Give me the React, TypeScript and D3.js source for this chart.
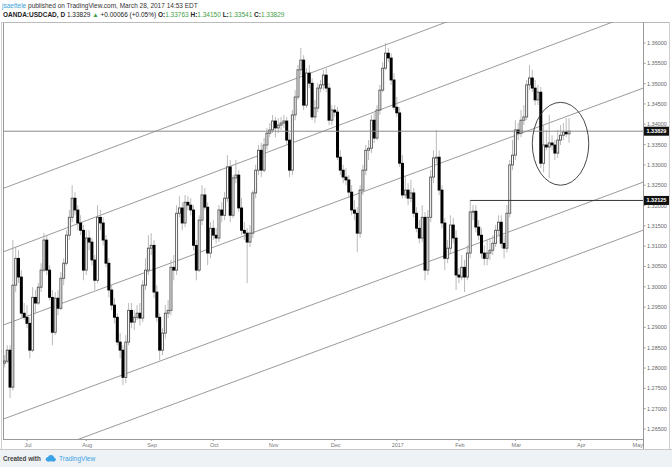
import React from 'react';
import * as d3 from 'd3';

const W = 672;
const H = 467;

// first trading day shown
const startDate = '2016-06-21';

const opens = [
  1.2812, 1.2817, 1.2844, 1.2753, 1.3004, 1.3070, 1.3024, 1.2935, 1.2925, 1.2910,
  1.2844, 1.2974, 1.2960, 1.2999, 1.3041, 1.3115, 1.3041, 1.2974, 1.2888, 1.2972,
  1.2947, 1.3021, 1.3058, 1.3127, 1.3171, 1.3218, 1.3189, 1.3157, 1.3139, 1.3041,
  1.3120, 1.3110, 1.3066, 1.3016, 1.3171, 1.3157, 1.3115, 1.3058, 1.2992, 1.2955,
  1.2925, 1.2864, 1.2844, 1.2777, 1.2864, 1.2942, 1.2913, 1.2925, 1.2935, 1.2923,
  1.3004, 1.3041, 1.3095, 1.3102, 1.2987, 1.2925, 1.2844, 1.2886, 1.2935, 1.2942,
  1.3048, 1.3041, 1.3181, 1.3194, 1.3157, 1.3208, 1.3201, 1.3189, 1.3102, 1.3041,
  1.3164, 1.3226, 1.3196, 1.3083, 1.3144, 1.3127, 1.3120, 1.3189, 1.3176, 1.3218,
  1.3295, 1.3176, 1.3268, 1.3275, 1.3194, 1.3139, 1.3132, 1.3110, 1.3132, 1.3231,
  1.3287, 1.3336, 1.3287, 1.3349, 1.3378, 1.3386, 1.3408, 1.3391, 1.3398, 1.3403,
  1.3408, 1.3361, 1.3287, 1.3423, 1.3467, 1.3534, 1.3558, 1.3447, 1.3526, 1.3501,
  1.3418, 1.3440, 1.3489, 1.3497, 1.3521, 1.3489, 1.3410, 1.3435, 1.3430, 1.3319,
  1.3287, 1.3270, 1.3263, 1.3233, 1.3189, 1.3181, 1.3132, 1.3238, 1.3287, 1.3336,
  1.3341, 1.3410, 1.3366, 1.3435, 1.3484, 1.3538, 1.3575, 1.3563, 1.3509, 1.3442,
  1.3428, 1.3304, 1.3226, 1.3238, 1.3218, 1.3231, 1.3181, 1.3144, 1.3120, 1.3171,
  1.3041, 1.3171, 1.3270, 1.3317, 1.3319, 1.3238, 1.3157, 1.3070, 1.3095, 1.3152,
  1.3120, 1.3029, 1.3024, 1.3048, 1.3024, 1.3083, 1.3184, 1.3186, 1.3147, 1.3127,
  1.3083, 1.3070, 1.3083, 1.3090, 1.3107, 1.3139, 1.3159, 1.3107, 1.3095, 1.3181,
  1.3300, 1.3324, 1.3386, 1.3378, 1.3410, 1.3418, 1.3497, 1.3514, 1.3489, 1.3460,
  1.3479, 1.3304, 1.3349, 1.3344, 1.3354, 1.3349, 1.3329, 1.3361, 1.3373, 1.3381,
  1.33763,
];

const highs = [
  1.2832, 1.2856, 1.2856, 1.3115, 1.3098, 1.3090, 1.3041, 1.2960, 1.2955, 1.2925,
  1.2999, 1.2992, 1.3009, 1.3058, 1.3132, 1.3127, 1.3053, 1.2992, 1.2987, 1.2992,
  1.3036, 1.3070, 1.3139, 1.3189, 1.3250, 1.3233, 1.3201, 1.3176, 1.3152, 1.3139,
  1.3139, 1.3120, 1.3078, 1.3201, 1.3189, 1.3171, 1.3127, 1.3070, 1.3004, 1.2972,
  1.2935, 1.2886, 1.2856, 1.2881, 1.2960, 1.2960, 1.2942, 1.2955, 1.2960, 1.3016,
  1.3070, 1.3127, 1.3132, 1.3115, 1.3004, 1.2935, 1.2898, 1.2955, 1.2967, 1.3066,
  1.3078, 1.3201, 1.3223, 1.3208, 1.3226, 1.3223, 1.3218, 1.3201, 1.3115, 1.3176,
  1.3250, 1.3243, 1.3208, 1.3159, 1.3164, 1.3144, 1.3201, 1.3208, 1.3233, 1.3324,
  1.3312, 1.3275, 1.3312, 1.3287, 1.3218, 1.3159, 1.3144, 1.3152, 1.3238, 1.3300,
  1.3349, 1.3354, 1.3366, 1.3391, 1.3403, 1.3423, 1.3418, 1.3415, 1.3418, 1.3423,
  1.3418, 1.3378, 1.3435, 1.3484, 1.3546, 1.3588, 1.3570, 1.3538, 1.3546, 1.3514,
  1.3460, 1.3501, 1.3509, 1.3534, 1.3538, 1.3501, 1.3447, 1.3447, 1.3442, 1.3336,
  1.3300, 1.3292, 1.3275, 1.3250, 1.3213, 1.3196, 1.3250, 1.3300, 1.3349, 1.3361,
  1.3423, 1.3428, 1.3447, 1.3497, 1.3553, 1.3600, 1.3588, 1.3575, 1.3526, 1.3467,
  1.3442, 1.3324, 1.3275, 1.3255, 1.3263, 1.3243, 1.3196, 1.3164, 1.3201, 1.3184,
  1.3189, 1.3287, 1.3336, 1.3386, 1.3336, 1.3250, 1.3169, 1.3115, 1.3176, 1.3169,
  1.3139, 1.3046, 1.3078, 1.3066, 1.3102, 1.3213, 1.3201, 1.3201, 1.3164, 1.3144,
  1.3102, 1.3115, 1.3120, 1.3127, 1.3152, 1.3176, 1.3176, 1.3127, 1.3201, 1.3312,
  1.3361, 1.3410, 1.3403, 1.3435, 1.3447, 1.3509, 1.3546, 1.3534, 1.3509, 1.3497,
  1.3492, 1.3398, 1.3386, 1.3423, 1.3373, 1.3361, 1.3386, 1.3398, 1.3403, 1.3415,
  1.34150,
];

const lows = [
  1.2802, 1.2812, 1.2726, 1.2745, 1.2987, 1.3009, 1.2923, 1.2918, 1.2898, 1.2824,
  1.2839, 1.2935, 1.2955, 1.2987, 1.3036, 1.3029, 1.2967, 1.2856, 1.2881, 1.2930,
  1.2942, 1.3004, 1.3053, 1.3115, 1.3159, 1.3176, 1.3139, 1.3127, 1.3016, 1.3029,
  1.3090, 1.3053, 1.2992, 1.3009, 1.3139, 1.3102, 1.3048, 1.2974, 1.2942, 1.2910,
  1.2856, 1.2824, 1.2758, 1.2763, 1.2856, 1.2898, 1.2893, 1.2918, 1.2905, 1.2913,
  1.2992, 1.3029, 1.3078, 1.2972, 1.2913, 1.2819, 1.2832, 1.2873, 1.2923, 1.2930,
  1.3016, 1.3029, 1.3171, 1.3139, 1.3147, 1.3189, 1.3176, 1.3090, 1.3016, 1.3036,
  1.3152, 1.3189, 1.3053, 1.3070, 1.3115, 1.3107, 1.3110, 1.3159, 1.3164, 1.3208,
  1.3159, 1.3169, 1.3255, 1.3184, 1.3127, 1.3115, 1.3009, 1.3098, 1.3120, 1.3218,
  1.3275, 1.3270, 1.3282, 1.3336, 1.3368, 1.3378, 1.3368, 1.3378, 1.3386, 1.3391,
  1.3349, 1.3270, 1.3275, 1.3410, 1.3460, 1.3521, 1.3435, 1.3440, 1.3489, 1.3410,
  1.3403, 1.3430, 1.3479, 1.3484, 1.3479, 1.3398, 1.3398, 1.3418, 1.3312, 1.3275,
  1.3255, 1.3250, 1.3218, 1.3176, 1.3164, 1.3085, 1.3120, 1.3226, 1.3275, 1.3312,
  1.3329, 1.3354, 1.3361, 1.3423, 1.3479, 1.3534, 1.3553, 1.3497, 1.3435, 1.3418,
  1.3295, 1.3218, 1.3218, 1.3201, 1.3208, 1.3171, 1.3134, 1.3107, 1.3110, 1.3016,
  1.3029, 1.3159, 1.3255, 1.3304, 1.3226, 1.3144, 1.3041, 1.3058, 1.3083, 1.3107,
  1.2992, 1.3009, 1.3016, 1.2987, 1.3016, 1.3070, 1.3164, 1.3134, 1.3115, 1.3070,
  1.3053, 1.3053, 1.3066, 1.3078, 1.3098, 1.3127, 1.3095, 1.3070, 1.3085, 1.3171,
  1.3287, 1.3312, 1.3361, 1.3368, 1.3398, 1.3410, 1.3484, 1.3479, 1.3447, 1.3447,
  1.3292, 1.3282, 1.3336, 1.3268, 1.3336, 1.3312, 1.3317, 1.3349, 1.3361, 1.3368,
  1.33541,
];

const closes = [
  1.2817, 1.2844, 1.2753, 1.3004, 1.3070, 1.3024, 1.2935, 1.2925, 1.2910, 1.2844,
  1.2974, 1.2960, 1.2999, 1.3041, 1.3115, 1.3041, 1.2974, 1.2888, 1.2972, 1.2947,
  1.3021, 1.3058, 1.3127, 1.3171, 1.3218, 1.3189, 1.3157, 1.3139, 1.3041, 1.3120,
  1.3110, 1.3066, 1.3016, 1.3171, 1.3157, 1.3115, 1.3058, 1.2992, 1.2955, 1.2925,
  1.2864, 1.2844, 1.2777, 1.2864, 1.2942, 1.2913, 1.2925, 1.2935, 1.2923, 1.3004,
  1.3041, 1.3095, 1.3102, 1.2987, 1.2925, 1.2844, 1.2886, 1.2935, 1.2942, 1.3048,
  1.3041, 1.3181, 1.3194, 1.3157, 1.3208, 1.3201, 1.3189, 1.3102, 1.3041, 1.3164,
  1.3226, 1.3196, 1.3083, 1.3144, 1.3127, 1.3120, 1.3189, 1.3176, 1.3218, 1.3295,
  1.3176, 1.3268, 1.3275, 1.3194, 1.3139, 1.3132, 1.3110, 1.3132, 1.3231, 1.3287,
  1.3336, 1.3287, 1.3349, 1.3378, 1.3386, 1.3408, 1.3391, 1.3398, 1.3403, 1.3408,
  1.3361, 1.3287, 1.3423, 1.3467, 1.3534, 1.3558, 1.3447, 1.3526, 1.3501, 1.3418,
  1.3440, 1.3489, 1.3497, 1.3521, 1.3489, 1.3410, 1.3435, 1.3430, 1.3319, 1.3287,
  1.3270, 1.3263, 1.3233, 1.3189, 1.3181, 1.3132, 1.3238, 1.3287, 1.3336, 1.3341,
  1.3410, 1.3366, 1.3435, 1.3484, 1.3538, 1.3575, 1.3563, 1.3509, 1.3442, 1.3428,
  1.3304, 1.3226, 1.3238, 1.3218, 1.3231, 1.3181, 1.3144, 1.3120, 1.3171, 1.3041,
  1.3171, 1.3270, 1.3317, 1.3319, 1.3238, 1.3157, 1.3070, 1.3095, 1.3152, 1.3120,
  1.3029, 1.3024, 1.3048, 1.3024, 1.3083, 1.3184, 1.3186, 1.3147, 1.3127, 1.3083,
  1.3070, 1.3083, 1.3090, 1.3107, 1.3139, 1.3159, 1.3107, 1.3095, 1.3181, 1.3300,
  1.3324, 1.3386, 1.3378, 1.3410, 1.3418, 1.3497, 1.3514, 1.3489, 1.3460, 1.3479,
  1.3304, 1.3349, 1.3344, 1.3354, 1.3349, 1.3329, 1.3361, 1.3373, 1.3381, 1.33763,
  1.33829,
];

const priceTicks = [
  1.265, 1.27, 1.275, 1.28, 1.285, 1.29, 1.295, 1.3, 1.305, 1.31,
  1.315, 1.32, 1.325, 1.33, 1.335, 1.34, 1.345, 1.35, 1.355, 1.36,
];

const monthLabels = ['Jul', 'Aug', 'Sep', 'Oct', 'Nov', 'Dec', '2017', 'Feb', 'Mar', 'Apr', 'May'];
const monthDates = [
  '2016-07-01', '2016-08-01', '2016-09-01', '2016-10-03', '2016-11-01', '2016-12-01',
  '2017-01-02', '2017-02-01', '2017-03-01', '2017-04-03', '2017-05-01',
];

const lastPrice = 1.33829;
const levelPrice = 1.32125;
const levelStartDate = '2017-02-07';

// parallel channel lines: [date0, price0, date1, price1]
const channelDates0 = ['2016-06-21', '2016-06-21', '2016-06-21', '2016-06-21', '2016-06-21'];
const channelPrices0 = [1.32432, 1.3087, 1.29069, 1.26754, 1.25572];
const channelDates1 = ['2017-03-28', '2017-03-28', '2017-03-28', '2017-03-28', '2017-03-28'];
const channelPrices1 = [1.37648, 1.36111, 1.34214, 1.31899, 1.30717];

// highlighted ellipse
const ellipseDates = ['2017-03-09', '2017-04-06'];
const ellipsePrices = [1.3454, 1.325];

function tradingIndex(d: string): number {
  const s = new Date(startDate + 'T00:00:00Z');
  const e = new Date(d + 'T00:00:00Z');
  const cur = new Date(s);
  let n = 0;
  while (cur < e) {
    const wd = cur.getUTCDay();
    if (wd !== 0 && wd !== 6) n++;
    cur.setUTCDate(cur.getUTCDate() + 1);
  }
  return n;
}

const PL = 3, PR = 643, PT = 22, PB = 439;

export default function App() {
  const x = d3.scaleLinear().domain([0, 200]).range([4.4, 569]);
  const y = d3.scaleLinear().domain([1.265, 1.36]).range([429, 43]);
  const fmt = d3.format('.5f');
  const FONT = "'Liberation Sans', Arial, sans-serif";

  const candles = closes.map((c, i) => ({ i, o: opens[i], h: highs[i], l: lows[i], c }));

  const lines = channelPrices0.map((p0, k) => {
    const i0 = tradingIndex(channelDates0[k]);
    const i1 = tradingIndex(channelDates1[k]);
    const f = d3.scaleLinear().domain([i0, i1]).range([p0, channelPrices1[k]]);
    const a = x.invert(PL);
    const b = x.invert(PR);
    return { x1: x(a), y1: y(f(a)), x2: x(b), y2: y(f(b)) };
  });

  const ex0 = x(tradingIndex(ellipseDates[0]));
  const ex1 = x(tradingIndex(ellipseDates[1]));
  const ey0 = y(ellipsePrices[0]);
  const ey1 = y(ellipsePrices[1]);

  const green = '#43a047';

  return (
    <svg width={W} height={H} style={{ position: 'absolute', left: 0, top: 0, background: '#fff' }}
      fontFamily={FONT}>
      <defs>
        <clipPath id="pane">
          <rect x={PL} y={PT} width={PR - PL} height={PB - PT} />
        </clipPath>
      </defs>
      <rect x={0} y={0} width={W} height={H} fill="#fff" />

      {/* header */}
      <text x={2} y={7.5} fontSize={6.5} fill="#333">
        <tspan fill="#3a9fd8">jsaettele</tspan>
        <tspan> published on TradingView.com, March 28, 2017 14:53 EDT</tspan>
      </text>
      <text x={3} y={17} fontSize={6.5} fill="#222">
        <tspan fontWeight="bold">OANDA:USDCAD, D</tspan>
        <tspan> 1.33829 </tspan>
        <tspan fill={green}>▲</tspan>
        <tspan> +0.00066 (+0.05%) </tspan>
        <tspan fontWeight="bold">O:</tspan><tspan fill={green}>1.33763 </tspan>
        <tspan fontWeight="bold">H:</tspan><tspan fill={green}>1.34150 </tspan>
        <tspan fontWeight="bold">L:</tspan><tspan fill={green}>1.33541 </tspan>
        <tspan fontWeight="bold">C:</tspan><tspan fill={green}>1.33829</tspan>
      </text>

      {/* chart frame */}
      <rect x={1.5} y={PT + 0.5} width={668} height={427} fill="none" stroke="#cfcfcf" />
      <line x1={PL + 0.5} x2={PL + 0.5} y1={PT} y2={PB} stroke="#999" />
      <line x1={PL} x2={669} y1={PT + 0.5} y2={PT + 0.5} stroke="#bbb" />
      <line x1={PR + 0.5} x2={PR + 0.5} y1={PT} y2={PB + 10} stroke="#999" />
      <line x1={PL} x2={PR} y1={PB + 0.5} y2={PB + 0.5} stroke="#999" />
      <line x1={0} x2={W} y1={449.5} y2={449.5} stroke="#c8c8c8" />

      <g clipPath="url(#pane)">
        {/* channel lines */}
        {lines.map((l, k) => (
          <line key={k} x1={l.x1} y1={l.y1} x2={l.x2} y2={l.y2} stroke="#8f8f8f" strokeWidth={0.9} />
        ))}

        {/* wicks */}
        {candles.map(d => (
          <line key={'w' + d.i} x1={x(d.i)} x2={x(d.i)} y1={y(d.h)} y2={y(d.l)} stroke="#a8a8a8" strokeWidth={0.8} />
        ))}
        {/* bodies */}
        {candles.map(d => {
          const up = d.c >= d.o;
          const top = y(Math.max(d.o, d.c));
          const bot = y(Math.min(d.o, d.c));
          const hgt = Math.max(bot - top, 1);
          return up ? (
            <rect key={'b' + d.i} x={x(d.i) - 1} y={top} width={2} height={hgt}
              fill="#fff" stroke="#555" strokeWidth={0.9} />
          ) : (
            <rect key={'b' + d.i} x={x(d.i) - 1.5} y={top - 0.4} width={3} height={hgt + 0.8} fill="#000" />
          );
        })}

        {/* horizontal levels */}
        <line x1={PL} x2={PR} y1={y(lastPrice)} y2={y(lastPrice)} stroke="#8a8a8a" strokeWidth={1} />
        <line x1={x(tradingIndex(levelStartDate))} x2={PR} y1={y(levelPrice)} y2={y(levelPrice)} stroke="#333" strokeWidth={1} />

        {/* ellipse */}
        <ellipse cx={(ex0 + ex1) / 2} cy={(ey0 + ey1) / 2} rx={(ex1 - ex0) / 2} ry={(ey1 - ey0) / 2}
          fill="none" stroke="#333" strokeWidth={0.9} />
      </g>

      {/* price axis */}
      {priceTicks.map(p => (
        <g key={p}>
          <line x1={PR} x2={PR + 2.5} y1={y(p)} y2={y(p)} stroke="#999" />
          <text x={PR + 4} y={y(p) + 2} fontSize={5.5} fill="#666">{fmt(p)}</text>
        </g>
      ))}
      {[lastPrice, levelPrice].map(p => (
        <g key={'box' + p}>
          <rect x={PR + 1} y={y(p) - 4.5} width={25} height={9} fill="#111" />
          <text x={PR + 3.5} y={y(p) + 2} fontSize={5.5} fontWeight="bold" fill="#fff">{fmt(p)}</text>
        </g>
      ))}

      {/* time axis */}
      {monthLabels.map((m, k) => {
        const xi = x(tradingIndex(monthDates[k]));
        return (
          <g key={m}>
            <line x1={xi} x2={xi} y1={PB} y2={PB + 2} stroke="#999" />
            <text x={xi + 1} y={446.5} fontSize={5.5} fill="#777" textAnchor="middle">{m}</text>
          </g>
        );
      })}

      {/* footer */}
      <rect x={0} y={450} width={W} height={17} fill="#eff2f5" />
      <text x={3} y={461} fontSize={6.3} fontWeight="bold" fill="#444">Created with</text>
      <g transform="translate(45,455)" fill="#3aa2e6">
        <circle cx={3} cy={4.2} r={2.2} />
        <circle cx={6} cy={3} r={3} />
        <circle cx={8.8} cy={4.4} r={2} />
        <rect x={3} y={4.4} width={6} height={2} />
      </g>
      <text x={59} y={461} fontSize={6.6} fill="#3aa2e6">TradingView</text>
    </svg>
  );
}
